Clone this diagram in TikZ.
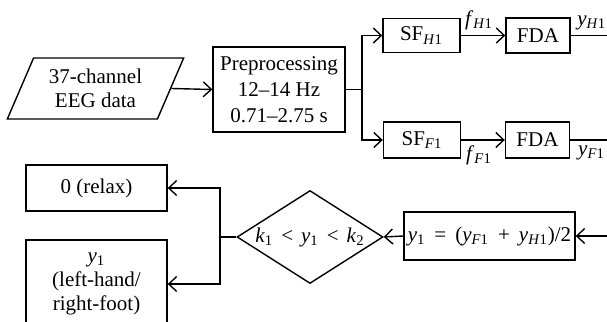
\documentclass[tikz,border=0pt]{standalone}
\usepackage{fontspec}
\setmainfont{Liberation Serif}
\usetikzlibrary{shapes.geometric,arrows.meta}
% italic symbol and subscript helpers
\newcommand{\vi}[1]{\textit{#1}}
\newcommand{\sbx}[1]{\textsubscript{#1}}
\newcommand{\opgap}{\hspace{4.5pt}}
\begin{document}
\begin{tikzpicture}[x=0.5pt,y=-0.5pt,
  every node/.style={font=\fontsize{10.5}{12}\selectfont},
  blk/.style={draw, line width=0.7pt, inner sep=0pt, align=center},
  con/.style={line width=0.7pt},
  arr/.style={con, -{Straight Barb[length=4pt,width=7.5pt]}}]
\clip (0,0) rectangle (607,322);

% input data
\node[blk, trapezium, trapezium left angle=63, trapezium right angle=117,
      trapezium stretches=true, minimum width=88.5pt, minimum height=30.5pt]
      (data) at (95.5,88.5) {37-channel\\EEG data};
% preprocessing
\node[blk, minimum width=66pt, minimum height=42.5pt,
      font=\fontsize{10.5}{13}\selectfont]
      (pre) at (279,89.5) {Preprocessing\\12--14 Hz\\0.71--2.75 s};
% spatial filters
\node[blk, minimum width=38.5pt, minimum height=17pt] (sfh) at (421.5,35.5) {SF\sbx{\vi{H}1}};
\node[blk, minimum width=38.5pt, minimum height=18pt] (sff) at (422,140) {SF\sbx{\vi{F}1}};
% classifiers
\node[blk, minimum width=32pt, minimum height=17.5pt] (fdah) at (538,35.5) {FDA};
\node[blk, minimum width=32pt, minimum height=18pt] (fdaf) at (537.5,140) {FDA};
% fusion
\node[blk, minimum width=85.5pt, minimum height=24pt] (avg) at (489.5,236)
  {\vi{y}\sbx{1}\opgap=\opgap(\vi{y}\sbx{\vi{F}1}\opgap+\opgap\vi{y}\sbx{\vi{H}1})/2};
% decision
\node[blk, diamond, aspect=1.57, minimum width=73pt, minimum height=46.5pt]
  (dia) at (310,237) {\vi{k}\sbx{1}\hspace{4pt}<\hspace{4pt}\vi{y}\sbx{1}\hspace{4pt}<\hspace{4pt}\vi{k}\sbx{2}};
% outputs
\node[blk, minimum width=70.5pt, minimum height=23pt] (relax) at (96.5,188) {0 (relax)};
\node[blk, minimum width=70.5pt, minimum height=44pt] (ycls) at (96.5,284)
  {\vi{y}\sbx{1}\\(left-hand/\\right-foot)};

% helper points
\coordinate (split) at (362,89.5);
\coordinate (split2) at (220,237);
\coordinate (outh) at (613,35.5);
\coordinate (outf) at (613,140);
\coordinate (inavg) at (640,236);

% connectors
\draw[arr] (data.east) -- (pre.west);
\draw[con] (pre.east) -- (split);
\draw[arr] (split) |- (sfh.west);
\draw[arr] (split) |- (sff.west);
\draw[arr] (sfh.east) -- node[above=-1pt, xshift=-2pt] {\vi{f}\sbx{\vi{H}1}} (fdah.west);
\draw[arr] (sff.east) -- node[below=-1pt, xshift=-2pt] {\vi{f}\sbx{\vi{F}1}} (fdaf.west);
\draw[con] (fdah.east) -- node[above=-1pt] {\vi{y}\sbx{\vi{H}1}} (outh);
\draw[con] (fdaf.east) -- node[below=-1pt] {\vi{y}\sbx{\vi{F}1}} (outf);
\draw[arr] (inavg) -- (avg.east);
\draw[arr] (avg.west) -- (dia.east);
\draw[con] (dia.west) -- (split2);
\draw[arr] (split2) |- (relax.east);
\draw[arr] (split2) |- (ycls.east);
\end{tikzpicture}
\end{document}
